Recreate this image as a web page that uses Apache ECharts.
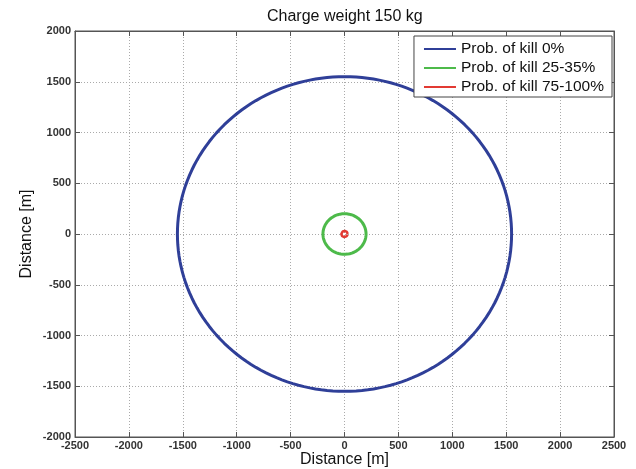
<!DOCTYPE html>
<html><head><meta charset="utf-8">
<script src="https://cdn.jsdelivr.net/npm/echarts@6/dist/echarts.min.js"></script>
<style>html,body{margin:0;padding:0;background:#fff}#c{width:636px;height:469px}</style>
</head><body><div id="c"></div>
<script>
var title = 'Charge weight 150 kg';
var seriesNames = ['Prob. of kill 0%', 'Prob. of kill 25-35%', 'Prob. of kill 75-100%'];
var radii = [1550, 200, 30];
var colors = ['#2f3f98', '#4dba4a', '#e23a33'];
var xTicks = [-2500, -2000, -1500, -1000, -500, 0, 500, 1000, 1500, 2000, 2500];
var yTicks = [-2000, -1500, -1000, -500, 0, 500, 1000, 1500, 2000];

function outline(r) {
  var pts = [];
  for (var a = 0; a <= 360; a += 2) {
    var t = a * Math.PI / 180;
    pts.push([r * Math.cos(t), r * Math.sin(t)]);
  }
  return pts;
}
var widths = [3, 3, 2.5];
var font = 'Liberation Sans, Arial, sans-serif';
function fmt(v) { return String(v); }
var axisCommon = {
  axisLine: {show: true, onZero: false, lineStyle: {color: '#555', width: 1}},
  axisTick: {show: true, inside: true, length: 5, lineStyle: {color: '#555'}},
  splitLine: {show: false}
};
var chart = echarts.init(document.getElementById('c'));
chart.setOption({
  animation: false,
  backgroundColor: '#fff',
  title: {text: title, left: 262, top: 4, textStyle: {fontFamily: font, fontSize: 16, fontWeight: 'normal', color: '#111'}},
  grid: {left: 75, right: 22, top: 31, bottom: 32, show: true, borderColor: '#555', borderWidth: 1, outerBoundsMode: 'none', containLabel: false},
  legend: {
    orient: 'vertical', right: 24, top: 36,
    data: seriesNames,
    icon: 'rect', itemWidth: 32, itemHeight: 2, itemGap: 3,
    backgroundColor: '#fff', borderColor: '#444', borderWidth: 1, padding: [5, 8, 2, 10],
    textStyle: {fontFamily: font, fontSize: 15.5, color: '#111'}
  },
  xAxis: [
    Object.assign({type: 'value', min: xTicks[0], max: xTicks[xTicks.length - 1], interval: 500, position: 'bottom',
      name: 'Distance [m]', nameLocation: 'middle', nameGap: 15, nameMoveOverlap: false,
      nameTextStyle: {fontFamily: font, fontSize: 16, color: '#111'},
      axisLabel: {fontFamily: font, fontSize: 11, fontWeight: 'bold', color: '#333', margin: 3, formatter: fmt}}, axisCommon,
      {splitLine: {show: true, lineStyle: {color: '#aaa', type: [1, 2], width: 1}}}),
    Object.assign({type: 'value', min: xTicks[0], max: xTicks[xTicks.length - 1], interval: 500, position: 'top',
      axisLabel: {show: false}}, axisCommon)
  ],
  yAxis: [
    Object.assign({type: 'value', min: yTicks[0], max: yTicks[yTicks.length - 1], interval: 500, position: 'left',
      name: 'Distance [m]', nameLocation: 'middle', nameGap: 40, nameMoveOverlap: false,
      nameTextStyle: {fontFamily: font, fontSize: 16, color: '#111'},
      axisLabel: {fontFamily: font, fontSize: 11, fontWeight: 'bold', color: '#333', margin: 4, formatter: fmt}}, axisCommon,
      {splitLine: {show: true, lineStyle: {color: '#aaa', type: [1, 2], width: 1}}}),
    Object.assign({type: 'value', min: yTicks[0], max: yTicks[yTicks.length - 1], interval: 500, position: 'right',
      axisLabel: {show: false}}, axisCommon)
  ],
  series: seriesNames.map(function (n, i) {
    return {
      name: n, type: 'line', data: outline(radii[i]), showSymbol: false, symbol: 'none',
      xAxisIndex: 0, yAxisIndex: 0,
      lineStyle: {color: colors[i], width: widths[i]}, itemStyle: {color: colors[i]}
    };
  })
});
</script></body></html>
